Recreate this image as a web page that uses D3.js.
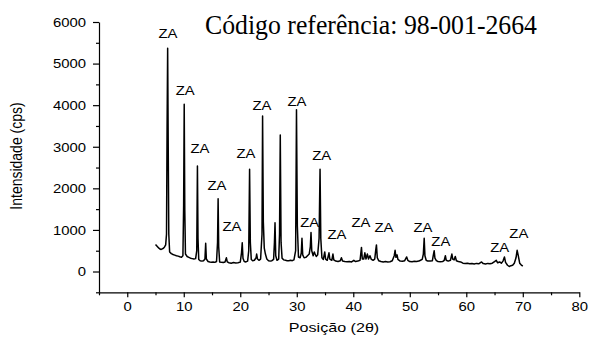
<!DOCTYPE html>
<html>
<head>
<meta charset="utf-8">
<script src="https://cdn.jsdelivr.net/npm/d3@7"></script>
<style>
  html, body { margin: 0; padding: 0; background: #fff; }
  svg { display: block; }
  text { fill: #000; }
</style>
</head>
<body>
<svg id="chart" width="589" height="338"></svg>
<script>
// XRD pattern: 2θ positions (degrees) and intensities (cps)
const twoTheta = [
  5.00, 5.20, 5.40, 5.60, 5.80, 6.00, 6.20, 6.40, 6.60, 6.80, 6.95, 7.05, 7.15, 7.25, 7.35, 7.50,
  7.80, 8.10, 8.40, 8.70, 9.00, 9.30, 9.60, 9.85, 9.98, 10.08, 10.18, 10.30, 10.60, 10.90, 11.20,
  11.50, 11.80, 12.10, 12.30, 12.42, 12.52, 12.65, 12.90, 13.20, 13.50, 13.75, 13.88, 14.00, 14.30,
  14.60, 14.90, 15.20, 15.50, 15.80, 15.98, 16.08, 16.18, 16.35, 16.70, 17.00, 17.30, 17.55, 17.70,
  18.00, 18.40, 18.80, 19.20, 19.60, 20.00, 20.22, 20.35, 20.48, 20.70, 21.00, 21.30, 21.50, 21.65,
  21.78, 21.95, 22.20, 22.50, 22.80, 22.90, 23.05, 23.30, 23.60, 23.85, 23.95, 24.08, 24.25, 24.45,
  24.70, 25.00, 25.30, 25.60, 25.90, 26.05, 26.15, 26.28, 26.50, 26.80, 26.95, 27.08, 27.22, 27.40,
  27.70, 28.00, 28.30, 28.60, 28.90, 29.20, 29.50, 29.80, 29.95, 30.10, 30.30, 30.60, 30.80, 30.92,
  31.05, 31.30, 31.60, 31.90, 32.20, 32.40, 32.52, 32.65, 32.90, 33.10, 33.25, 33.45, 33.70, 33.95,
  34.12, 34.25, 34.45, 34.70, 34.95, 35.10, 35.40, 35.70, 35.85, 36.20, 36.40, 36.55, 36.90, 37.30,
  37.70, 37.90, 38.10, 38.50, 38.90, 39.30, 39.70, 40.10, 40.40, 40.80, 41.20, 41.45, 41.60, 41.85,
  42.05, 42.25, 42.50, 42.70, 42.95, 43.20, 43.50, 43.80, 43.98, 44.10, 44.25, 44.50, 44.90, 45.30,
  45.70, 46.10, 46.50, 46.90, 47.25, 47.40, 47.55, 47.75, 47.90, 48.30, 48.70, 49.10, 49.45, 49.65,
  50.00, 50.40, 50.80, 51.20, 51.60, 51.90, 52.20, 52.40, 52.55, 52.68, 52.90, 53.20, 53.60, 54.00,
  54.20, 54.32, 54.45, 54.70, 55.00, 55.40, 55.80, 56.10, 56.30, 56.45, 56.80, 57.20, 57.45, 57.60,
  57.85, 58.05, 58.25, 58.60, 59.00, 59.40, 59.80, 60.20, 60.60, 61.00, 61.40, 61.80, 62.20, 62.70,
  63.00, 63.40, 63.80, 64.20, 64.60, 65.00, 65.30, 65.55, 65.90, 66.20, 66.50, 66.75, 66.95, 67.30,
  67.60, 67.90, 68.20, 68.50, 68.80, 69.00, 69.20, 69.45, 69.70, 70.00
];
const intensity = [
  650, 620, 590, 560, 540, 530, 545, 560, 590, 640, 900, 3500, 5370, 3000, 900, 470,
  430, 410, 395, 380, 370, 355, 345, 380, 1600, 4020, 1500, 420, 360, 340, 320,
  310, 300, 310, 500, 2540, 800, 290, 260, 250, 260, 300, 680, 300, 240,
  230, 225, 230, 220, 240, 700, 1750, 600, 230, 220, 215, 230, 330, 230,
  210, 200, 215, 205, 210, 225, 450, 690, 320, 240, 230, 250, 500, 2460,
  700, 290, 260, 270, 330, 420, 300, 270, 300, 900, 3740, 1200, 560, 420,
  300, 260, 250, 260, 290, 700, 1170, 380, 270, 300, 900, 3280, 700, 320,
  280, 270, 260, 260, 270, 260, 280, 500, 3890, 1100, 350, 330, 450, 800,
  400, 330, 340, 380, 420, 600, 940, 500, 380, 470, 420, 360, 400, 800,
  2460, 800, 330, 290, 470, 300, 270, 450, 300, 270, 420, 280, 250, 240,
  260, 330, 250, 240, 235, 240, 230, 270, 240, 250, 270, 580, 300, 300,
  450, 300, 420, 300, 380, 290, 270, 300, 520, 640, 330, 260, 240, 230,
  240, 230, 235, 260, 380, 510, 340, 400, 290, 250, 245, 260, 350, 270,
  240, 235, 245, 240, 250, 270, 290, 420, 800, 380, 270, 250, 250, 260,
  420, 500, 320, 260, 240, 235, 240, 270, 380, 270, 250, 270, 420, 300,
  280, 360, 260, 240, 230, 200, 190, 200, 185, 190, 180, 195, 185, 230,
  190, 180, 195, 185, 200, 240, 270, 210, 230, 200, 250, 350, 220, 150,
  120, 140, 150, 200, 330, 510, 380, 200, 160, 130
];

// Phase annotations ("ZA"): anchor in data units (2θ, cps) for each label
const peakLabel = "ZA";
const labelTheta = [7.2, 10.27, 12.87, 15.88, 18.53, 21.0, 23.84, 30.03, 34.4, 32.28, 37.1, 41.36, 45.43, 52.33, 55.5, 65.9, 69.3];
const labelCounts = [5604, 4235, 2842, 1953, 968, 2722, 3875, 3971, 2674, 1071, 776, 1071, 951, 951, 615, 471, 817];

// Axis ticks
const xMajorTicks = [0, 10, 20, 30, 40, 50, 60, 70, 80];
const xMinorTicks = [-5, 5, 15, 25, 35, 45, 55, 65, 75];
const yMajorTicks = [0, 1000, 2000, 3000, 4000, 5000, 6000];
const yMinorTicks = [-500, 500, 1500, 2500, 3500, 4500, 5500];

const titleText = "Código referência: 98-001-2664";
const xTitle = "Posição (2θ)";
const yTitle = "Intensidade (cps)";

const svg = d3.select("#chart");
const sans = "'Liberation Sans', Arial, sans-serif";
const stretch = 1.24; // horizontal stretch of sans-serif lettering

const x = d3.scaleLinear().domain([-5, 80]).range([99, 579.3]);
const y = d3.scaleLinear().domain([-500, 6000]).range([292.3, 22]);

// Axes
const xAxisG = svg.append("g").attr("transform", `translate(0,${y(-500)})`);
xAxisG.call(d3.axisBottom(x).tickValues(xMinorTicks).tickSize(3).tickSizeOuter(0).tickFormat(""));
xAxisG.append("g").call(d3.axisBottom(x).tickValues(xMajorTicks).tickSize(5).tickSizeOuter(0).tickFormat(d3.format("d")))
  .call(g => g.select(".domain").remove());

const yAxisG = svg.append("g").attr("transform", `translate(${x(-5)},0)`);
yAxisG.call(d3.axisLeft(y).tickValues(yMinorTicks).tickSize(3).tickSizeOuter(0).tickFormat(""));
yAxisG.append("g").call(d3.axisLeft(y).tickValues(yMajorTicks).tickSize(6).tickSizeOuter(0).tickFormat(d3.format("d")))
  .call(g => g.select(".domain").remove());

svg.selectAll(".domain, .tick line").attr("stroke", "#000").attr("stroke-width", 1.2);
svg.selectAll(".tick text")
  .attr("font-family", sans).attr("font-size", 12).attr("fill", "#000");

xAxisG.selectAll(".tick text")
  .attr("y", 0).attr("dy", 0)
  .attr("transform", `translate(0,${311 - y(-500)}) scale(${stretch},1)`);
yAxisG.selectAll(".tick text")
  .attr("x", 0).attr("dy", "0.36em")
  .attr("transform", `translate(-13,0) scale(${stretch},1)`);

// Diffraction pattern
const points = twoTheta.map((t, i) => [t, intensity[i]]);
svg.append("path")
  .datum(points)
  .attr("fill", "none")
  .attr("stroke", "#000")
  .attr("stroke-width", 1.5)
  .attr("stroke-linejoin", "round")
  .attr("d", d3.line().x(d => x(d[0])).y(d => y(d[1])));

// Peak annotations
svg.append("g").selectAll("text")
  .data(labelTheta.map((t, i) => [t, labelCounts[i]]))
  .join("text")
  .attr("transform", d => `translate(${x(d[0])},${y(d[1])}) scale(${stretch},1)`)
  .attr("text-anchor", "middle")
  .attr("font-family", sans)
  .attr("font-size", 12)
  .text(peakLabel);

// Axis titles
svg.append("text")
  .attr("transform", `translate(334,332) scale(${stretch},1)`)
  .attr("text-anchor", "middle")
  .attr("font-family", sans)
  .attr("font-size", 13)
  .text(xTitle);

svg.append("text")
  .attr("transform", `translate(22,156) scale(${stretch},1) rotate(-90)`)
  .attr("text-anchor", "middle")
  .attr("font-family", sans)
  .attr("font-size", 14)
  .text(yTitle);

// Chart title
svg.append("text")
  .attr("x", 205)
  .attr("y", 34)
  .attr("font-family", "'Liberation Serif', 'Times New Roman', serif")
  .attr("font-size", 28)
  .attr("textLength", 332)
  .attr("lengthAdjust", "spacingAndGlyphs")
  .text(titleText);
</script>
</body>
</html>
